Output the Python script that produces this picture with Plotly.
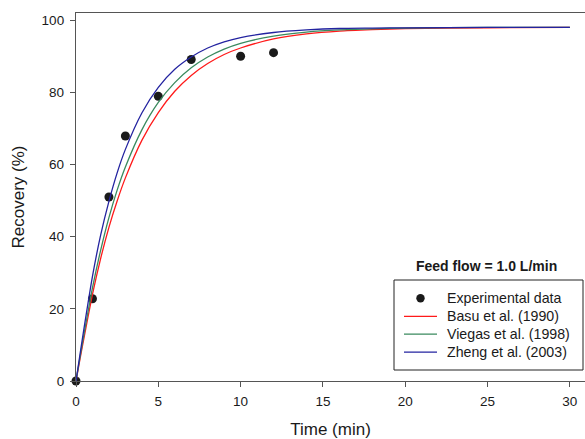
import plotly.graph_objects as go

# Experimental recovery data (feed flow 1.0 L/min)
exp_time = [0, 1, 2, 3, 5, 7, 10, 12]
exp_recovery = [0, 22.8, 51.0, 67.9, 78.9, 89.1, 90.0, 91.0]

# Kinetic model curves
model_time = [0, 0.25, 0.5, 1, 1.5, 2, 2.5, 3, 4, 5, 6, 7, 8, 9, 10, 12, 14, 16, 18, 20, 25, 30]
basu_1990 = [0, 6.3, 12.3, 24.0, 34.0, 42.6, 49.9, 56.3, 66.7, 74.4, 80.3, 84.7, 88.0, 90.5,
             92.3, 94.8, 96.2, 97.0, 97.4, 97.7, 97.9, 98.0]
viegas_1998 = [0, 6.8, 13.3, 25.8, 36.3, 45.3, 52.9, 59.3, 69.6, 77.2, 82.7, 86.8, 89.8, 92.0,
               93.6, 95.6, 96.7, 97.3, 97.6, 97.8, 98.0, 98.0]
zheng_2003 = [0, 7.6, 15.0, 29.0, 40.5, 49.8, 57.7, 64.2, 74.3, 81.4, 86.4, 89.8, 92.3, 94.0,
              95.2, 96.6, 97.3, 97.7, 97.8, 97.9, 98.0, 98.0]

x_ticks = [0, 5, 10, 15, 20, 25, 30]
y_ticks = [0, 20, 40, 60, 80, 100]

FONT = "Liberation Sans, Arial, sans-serif"
AXIS_COLOR = "#555555"
TEXT_COLOR = "#1a1a1a"
MARKER_COLOR = "#1a1a1a"

W, H = 585, 439
M_L, M_R, M_T, M_B = 76, 0, 13, 58
PLOT_W = W - M_L - M_R
PLOT_H = H - M_T - M_B


def px_x(px):
    """Pixel column -> paper x."""
    return (px - M_L) / PLOT_W


def px_y(py):
    """Pixel row -> paper y."""
    return (H - M_B - py) / PLOT_H


models = [
    ("Basu et al. (1990)", basu_1990, "#ff1a1a"),
    ("Viegas et al. (1998)", viegas_1998, "#3a8a5e"),
    ("Zheng et al. (2003)", zheng_2003, "#2323a0"),
]

fig = go.Figure()

fig.add_trace(go.Scatter(
    x=exp_time, y=exp_recovery, mode="markers", name="Experimental data",
    marker=dict(symbol="circle", size=9, color=MARKER_COLOR),
    cliponaxis=False,
))

for name, values, color in models:
    fig.add_trace(go.Scatter(
        x=model_time, y=values, mode="lines", name=name,
        line=dict(color=color, width=1.3, shape="spline", smoothing=0.6),
    ))

# Boxed key drawn with shapes and annotations
shapes = [dict(
    type="rect", xref="paper", yref="paper",
    x0=px_x(394), x1=px_x(583), y0=px_y(370), y1=px_y(280),
    line=dict(color="#222222", width=1), fillcolor="white", layer="above",
)]
annotations = [dict(
    x=px_x(486.5), y=px_y(266), xref="paper", yref="paper",
    xanchor="center", yanchor="middle", showarrow=False,
    text="<b>Feed flow = 1.0 L/min</b>",
    font=dict(family=FONT, size=14, color=TEXT_COLOR),
)]

row_y = [298.3, 316.3, 334.2, 352.1]
key_labels = ["Experimental data"] + [m[0] for m in models]

shapes.append(dict(
    type="circle", xref="paper", yref="paper",
    xsizemode="pixel", ysizemode="pixel",
    xanchor=px_x(420.5), yanchor=px_y(row_y[0]),
    x0=-4.2, x1=4.2, y0=-4.2, y1=4.2,
    fillcolor=MARKER_COLOR, line=dict(color=MARKER_COLOR, width=0), layer="above",
))
for (name, _, color), ry in zip(models, row_y[1:]):
    shapes.append(dict(
        type="line", xref="paper", yref="paper",
        x0=px_x(404), x1=px_x(437), y0=px_y(ry), y1=px_y(ry),
        line=dict(color=color, width=1.3), layer="above",
    ))
for label, ry in zip(key_labels, row_y):
    annotations.append(dict(
        x=px_x(444.5), y=px_y(ry), xref="paper", yref="paper",
        xanchor="left", yanchor="middle", showarrow=False, align="left",
        text=label, font=dict(family=FONT, size=14.2, color=TEXT_COLOR),
    ))

fig.update_layout(
    width=W, height=H,
    margin=dict(l=M_L, r=M_R, t=M_T, b=M_B),
    paper_bgcolor="white", plot_bgcolor="white",
    font=dict(family=FONT, color=TEXT_COLOR),
    showlegend=False,
    shapes=shapes,
    annotations=annotations,
)

fig.update_xaxes(
    range=[0, 30.92], tickvals=x_ticks, ticks="outside", ticklen=5, tickwidth=1.2,
    tickcolor=AXIS_COLOR, showline=True, linecolor=AXIS_COLOR, linewidth=1.3, mirror=True,
    showgrid=False, zeroline=False, ticklabelstandoff=3,
    tickfont=dict(family=FONT, size=13.5, color=TEXT_COLOR),
    title=dict(text="Time (min)", font=dict(family=FONT, size=17, color=TEXT_COLOR), standoff=15),
)
fig.update_yaxes(
    range=[0, 102], tickvals=y_ticks, ticks="outside", ticklen=5, tickwidth=1.2,
    tickcolor=AXIS_COLOR, showline=True, linecolor=AXIS_COLOR, linewidth=1.3,
    showgrid=False, zeroline=False, ticklabelstandoff=3,
    tickfont=dict(family=FONT, size=13.5, color=TEXT_COLOR),
    title=dict(text="Recovery (%)", font=dict(family=FONT, size=17, color=TEXT_COLOR), standoff=12),
)

fig.write_html("out.html")
